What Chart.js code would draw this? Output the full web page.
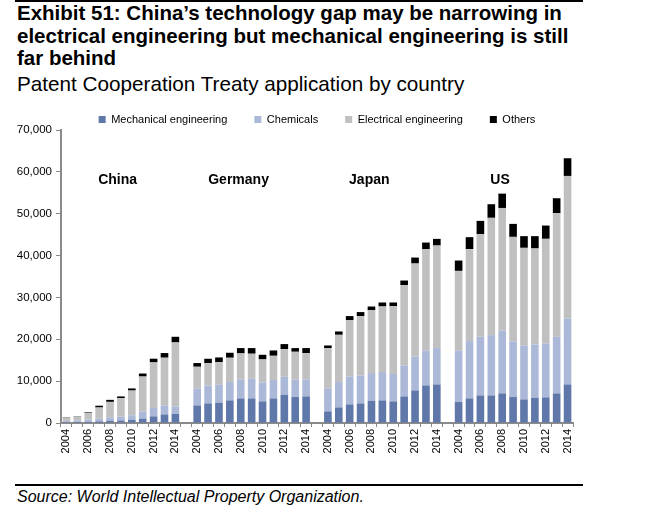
<!DOCTYPE html>
<html>
<head>
<meta charset="utf-8">
<script src="https://cdn.jsdelivr.net/npm/chart.js@4/dist/chart.umd.min.js"></script>
<style>
  body { margin: 0; background: #fff; font-family: 'Liberation Sans', Arial, sans-serif; color: #000; }
  .rule { position: absolute; left: 15px; width: 568px; background: #000; }
  #title { position: absolute; left: 17px; top: 2px; font-size: 20.5px; font-weight: bold; line-height: 22.5px; }
  #subtitle { position: absolute; left: 17px; top: 73px; font-size: 20.7px; line-height: 22px; }
  #wrap { position: absolute; left: 0; top: 87px; width: 600px; height: 378px; }
  #source { position: absolute; left: 17px; top: 488px; font-size: 16px; font-style: italic; line-height: 18px; }
</style>
</head>
<body>
<div class="rule" style="top:0;height:2px"></div>
<div id="title">Exhibit 51: China’s technology gap may be narrowing in<br>electrical engineering but mechanical engineering is still<br>far behind</div>
<div id="subtitle">Patent Cooperation Treaty application by country</div>
<div id="wrap"><canvas id="pctChart"></canvas></div>
<div class="rule" style="top:484px;height:2px"></div>
<div id="source">Source: World Intellectual Property Organization.</div>

<script>
const years     = ['2004','2005','2006','2007','2008','2009','2010','2011','2012','2013','2014'];
const countries = ['China', 'Germany', 'Japan', 'US'];

// per country, 2004..2014
const mechanical = [
    [200, 250, 300, 400, 550, 600, 750, 1050, 1580, 2050, 2150],
    [4200, 4680, 4850, 5400, 5870, 5870, 5160, 5870, 6760, 6200, 6350],
    [2770, 3720, 4440, 4680, 5320, 5400, 5160, 6350, 7780, 8980, 9210],
    [5010, 5870, 6590, 6590, 7070, 6200, 5640, 6040, 6120, 7070, 9210]
];
const chemicals = [
    [300, 350, 500, 600, 800, 900, 1100, 1700, 2000, 2150, 1800],
    [4060, 4300, 4290, 4390, 4540, 4700, 4540, 4390, 4290, 4210, 4060],
    [5490, 6070, 6610, 6680, 6610, 6770, 6540, 7400, 8120, 8350, 8690],
    [12320, 13700, 14010, 14410, 15030, 13280, 12880, 12720, 12880, 13530, 15760]
];
const electrical = [
    [750, 970, 1550, 2700, 3700, 4450, 5900, 8350, 10900, 11400, 15300],
    [5180, 5340, 5410, 5800, 6220, 5980, 5490, 5800, 6610, 6610, 6300],
    [9620, 11280, 13540, 14190, 15020, 15670, 16210, 19180, 22200, 24190, 24500],
    [19010, 21970, 24510, 28010, 29280, 24990, 23330, 22940, 24990, 29520, 34060]
];
const others = [
    [90, 100, 180, 430, 480, 400, 510, 720, 880, 1110, 1350],
    [880, 1030, 1110, 1190, 1270, 1350, 1110, 1270, 1190, 880, 1190],
    [640, 800, 950, 950, 880, 950, 880, 1110, 1430, 1590, 1590],
    [2470, 2860, 3180, 3260, 3420, 3100, 2790, 2940, 3180, 3580, 4220]
];
const yTicks = [0, 10000, 20000, 30000, 40000, 50000, 60000, 70000];

// flatten groups with one empty category between countries
function flat(groups, gap) {
    let out = [];
    groups.forEach((g, i) => {
        out = out.concat(g);
        if (i < groups.length - 1) out.push(gap);
    });
    return out;
}
const labels = flat(countries.map(() => years), '');

const countryLabels = {
    id: 'countryLabels',
    afterDatasetsDraw(chart) {
        const x = chart.scales.x, y = chart.scales.y, ctx = chart.ctx;
        const offs = [4.7, 3.8, 3.8, 3.8];
        ctx.save();
        ctx.font = "bold 14px 'Liberation Sans', Arial, sans-serif";
        ctx.fillStyle = '#000';
        ctx.textAlign = 'center';
        ctx.textBaseline = 'middle';
        countries.forEach((c, i) => {
            const start = i * (years.length + 1);
            const px = x.getPixelForValue(start) + offs[i] * (x.getPixelForValue(start + 1) - x.getPixelForValue(start));
            ctx.fillText(c, px, y.getPixelForValue(58000));
        });
        ctx.restore();
    }
};

// centre the legend over the plot area rather than the whole canvas
const legendOverPlot = {
    id: 'legendOverPlot',
    afterLayout(chart) {
        const a = chart.chartArea;
        if (!chart.legend) return;
        chart.legend.left = a.left;
        chart.legend.right = a.right;
        chart.legend.width = a.right - a.left;
    }
};

document.addEventListener('DOMContentLoaded', function () {
    Chart.defaults.font.family = "'Liberation Sans', Arial, sans-serif";
    Chart.defaults.font.size = 11;
    Chart.defaults.color = '#000';

    const ds = (label, arr, color) => ({
        label: label,
        data: flat(arr, null),
        backgroundColor: color,
        borderWidth: 0,
        barPercentage: 0.7,
        categoryPercentage: 1.0
    });

    new Chart(document.getElementById('pctChart'), {
        type: 'bar',
        data: {
            labels: labels,
            datasets: [
                ds('Mechanical engineering', mechanical, '#6077aa'),
                ds('Chemicals', chemicals, '#abb8d7'),
                ds('Electrical engineering', electrical, '#c0c0c0'),
                ds('Others', others, '#000000')
            ]
        },
        options: {
            responsive: true,
            maintainAspectRatio: false,
            animation: false,
            layout: { padding: { left: 0, right: 27, top: 0, bottom: 0 } },
            scales: {
                x: {
                    stacked: true,
                    afterFit: s => { s.height = 42; },
                    border: { color: '#8a8a8a', width: 2 },
                    grid: { drawOnChartArea: false, color: '#8a8a8a', tickLength: 4, offset: true },
                    ticks: {
                        autoSkip: false,
                        minRotation: 90,
                        maxRotation: 90,
                        padding: 2,
                        callback: function (v) {
                            const l = labels[v];
                            return l && (+l % 2 === 0) ? l : '';
                        }
                    }
                },
                y: {
                    stacked: true,
                    min: yTicks[0],
                    max: yTicks[yTicks.length - 1],
                    afterFit: s => { s.width = 61; },
                    afterBuildTicks: s => { s.ticks = yTicks.map(v => ({ value: v })); },
                    border: { color: '#8a8a8a', width: 2 },
                    grid: { drawOnChartArea: false, color: '#8a8a8a', tickLength: 5 },
                    ticks: {
                        padding: 4,
                        font: { size: 11.5 },
                        callback: v => v.toLocaleString('en-US')
                    }
                }
            },
            plugins: {
                legend: {
                    display: true,
                    position: 'top',
                    maxHeight: 43,
                    labels: {
                        boxWidth: 7,
                        boxHeight: 7,
                        padding: 27,
                        font: { size: 11 }
                    }
                },
                tooltip: { enabled: false }
            }
        },
        plugins: [countryLabels, legendOverPlot]
    });
});
</script>
</body>
</html>
